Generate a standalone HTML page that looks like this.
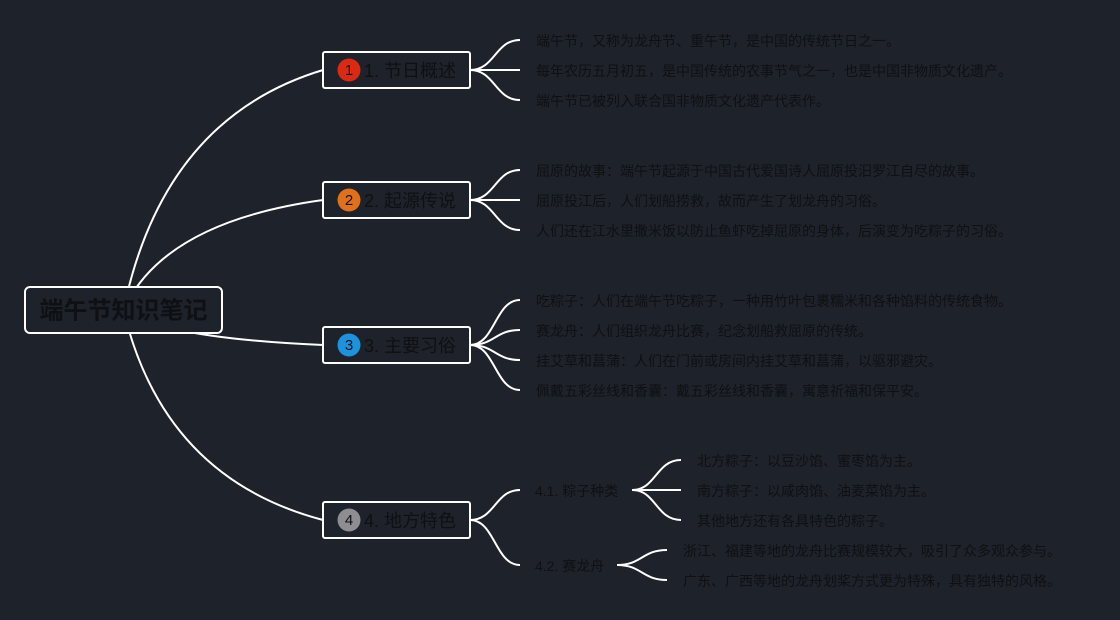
<!DOCTYPE html>
<html>
<head>
<meta charset="utf-8">
<style>
  html, body { margin: 0; padding: 0; background: #1e222a; }
  svg { display: block; }
  text { font-family: "Liberation Sans", "Noto Sans CJK SC", sans-serif; fill: #0e1014; }
</style>
</head>
<body>
<svg width="1120" height="620" viewBox="0 0 1120 620" xmlns="http://www.w3.org/2000/svg">
  <rect x="0" y="0" width="1120" height="620" fill="#1e222a"/>

  <!-- root connectors -->
  <g fill="none" stroke="#ffffff" stroke-width="2">
    <path d="M123.5,310 Q163.4,118 323,70"/>
    <path d="M123.5,310 Q163.4,222 323,200"/>
    <path d="M123.5,310 Q163.4,338 323,345"/>
    <path d="M123.5,310 Q163.4,478 323,520"/>
  </g>

  <!-- branch 1 children -->
  <g fill="none" stroke="#ffffff" stroke-width="2">
    <path d="M470,70 C495,70 495,40 520,40"/>
    <path d="M470,70 L520,70"/>
    <path d="M470,70 C495,70 495,100 520,100"/>
    <!-- branch 2 -->
    <path d="M470,200 C495,200 495,170 520,170"/>
    <path d="M470,200 L520,200"/>
    <path d="M470,200 C495,200 495,230 520,230"/>
    <!-- branch 3 -->
    <path d="M470,345 C495,345 495,300 520,300"/>
    <path d="M470,345 C495,345 495,330 520,330"/>
    <path d="M470,345 C495,345 495,360 520,360"/>
    <path d="M470,345 C495,345 495,390 520,390"/>
    <!-- branch 4 -->
    <path d="M470,520 C495,520 495,490 520,490"/>
    <path d="M470,520 C495,520 495,565 520,565"/>
    <!-- 4.1 -->
    <path d="M632,490 C656,490 656,460 681,460"/>
    <path d="M632,490 L681,490"/>
    <path d="M632,490 C656,490 656,520 681,520"/>
    <!-- 4.2 -->
    <path d="M617,565 C642,565 642,550 667,550"/>
    <path d="M617,565 C642,565 642,580 667,580"/>
  </g>

  <!-- root node -->
  <rect x="25" y="287" width="197" height="46" rx="5" ry="5" fill="#1e222a" stroke="#ffffff" stroke-width="2"/>
  <text x="123.5" y="311" font-size="24" font-weight="bold" text-anchor="middle" dominant-baseline="central">端午节知识笔记</text>

  <!-- branch nodes -->
  <g stroke="#ffffff" stroke-width="2" fill="#1e222a">
    <rect x="323" y="52" width="147" height="36" rx="2"/>
    <rect x="323" y="182" width="147" height="36" rx="2"/>
    <rect x="323" y="327" width="147" height="36" rx="2"/>
    <rect x="323" y="502" width="147" height="36" rx="2"/>
  </g>

  <circle cx="349" cy="70" r="11.5" fill="#dc2a12"/>
  <text x="349" y="70.5" font-size="15" text-anchor="middle" dominant-baseline="central">1</text>
  <text x="364" y="71" font-size="18" dominant-baseline="central">1. 节日概述</text>

  <circle cx="349" cy="200" r="11.5" fill="#e0701a"/>
  <text x="349" y="200.5" font-size="15" text-anchor="middle" dominant-baseline="central">2</text>
  <text x="364" y="201" font-size="18" dominant-baseline="central">2. 起源传说</text>

  <circle cx="349" cy="345" r="11.5" fill="#1d93de"/>
  <text x="349" y="345.5" font-size="15" text-anchor="middle" dominant-baseline="central">3</text>
  <text x="364" y="346" font-size="18" dominant-baseline="central">3. 主要习俗</text>

  <circle cx="349" cy="520" r="11.5" fill="#8e8e92"/>
  <text x="349" y="520.5" font-size="15" text-anchor="middle" dominant-baseline="central">4</text>
  <text x="364" y="521" font-size="18" dominant-baseline="central">4. 地方特色</text>

  <!-- leaves -->
  <g font-size="14">
    <text x="536" y="41" dominant-baseline="central">端午节，又称为龙舟节、重午节，是中国的传统节日之一。</text>
    <text x="536" y="71" dominant-baseline="central">每年农历五月初五，是中国传统的农事节气之一，也是中国非物质文化遗产。</text>
    <text x="536" y="101" dominant-baseline="central">端午节已被列入联合国非物质文化遗产代表作。</text>

    <text x="536" y="171" dominant-baseline="central">屈原的故事：端午节起源于中国古代爱国诗人屈原投汨罗江自尽的故事。</text>
    <text x="536" y="201" dominant-baseline="central">屈原投江后，人们划船捞救，故而产生了划龙舟的习俗。</text>
    <text x="536" y="231" dominant-baseline="central">人们还在江水里撒米饭以防止鱼虾吃掉屈原的身体，后演变为吃粽子的习俗。</text>

    <text x="536" y="301" dominant-baseline="central">吃粽子：人们在端午节吃粽子，一种用竹叶包裹糯米和各种馅料的传统食物。</text>
    <text x="536" y="331" dominant-baseline="central">赛龙舟：人们组织龙舟比赛，纪念划船救屈原的传统。</text>
    <text x="536" y="361" dominant-baseline="central">挂艾草和菖蒲：人们在门前或房间内挂艾草和菖蒲，以驱邪避灾。</text>
    <text x="536" y="391" dominant-baseline="central">佩戴五彩丝线和香囊：戴五彩丝线和香囊，寓意祈福和保平安。</text>

    <text x="535" y="491" dominant-baseline="central">4.1. 粽子种类</text>
    <text x="535" y="566" dominant-baseline="central">4.2. 赛龙舟</text>

    <text x="697" y="461" dominant-baseline="central">北方粽子：以豆沙馅、蜜枣馅为主。</text>
    <text x="697" y="491" dominant-baseline="central">南方粽子：以咸肉馅、油麦菜馅为主。</text>
    <text x="697" y="521" dominant-baseline="central">其他地方还有各具特色的粽子。</text>

    <text x="683" y="551" dominant-baseline="central">浙江、福建等地的龙舟比赛规模较大，吸引了众多观众参与。</text>
    <text x="683" y="581" dominant-baseline="central">广东、广西等地的龙舟划桨方式更为特殊，具有独特的风格。</text>
  </g>
</svg>
</body>
</html>
